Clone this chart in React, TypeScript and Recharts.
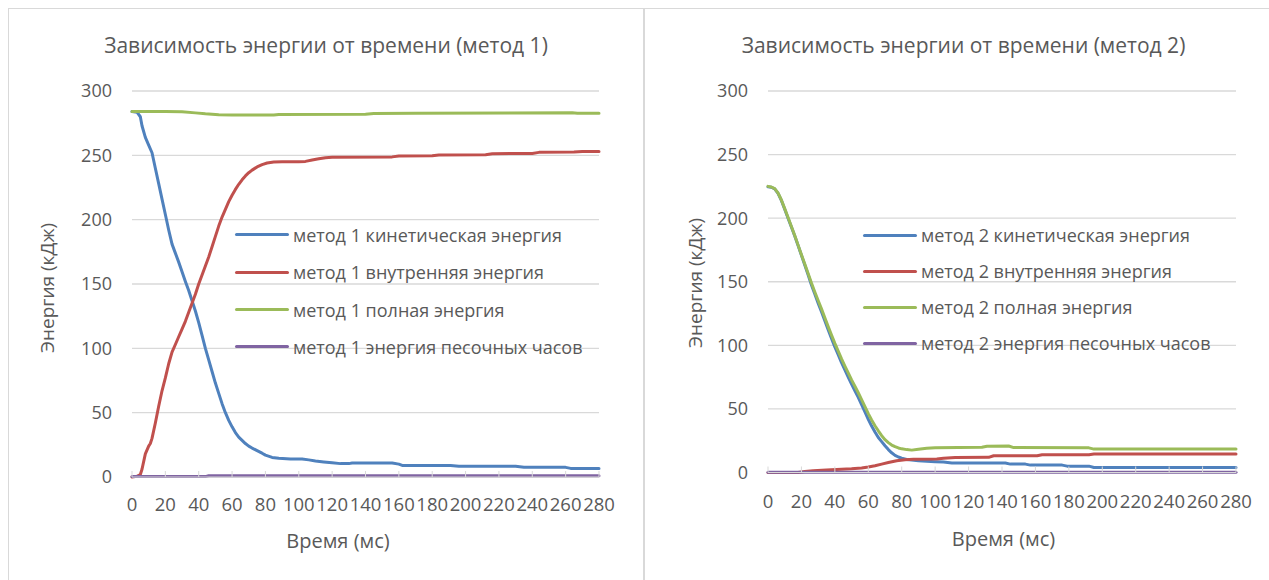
import { LineChart, Line, XAxis, YAxis, CartesianGrid, Legend } from "recharts";

type Pt = [number, number];

const timeTicks = [0, 20, 40, 60, 80, 100, 120, 140, 160, 180, 200, 220, 240, 260, 280];
const energyTicks = [0, 50, 100, 150, 200, 250, 300];

// метод 1: (время, мс; энергия, кДж)
const kinetic1: Pt[] = [
  [0, 284], [3, 283.5], [5, 280], [6, 273], [8, 264], [10, 258], [12, 252], [14, 240],
  [16, 228], [18, 216], [20, 204], [22, 192], [24, 181], [26, 174], [28, 167], [30, 159.5],
  [32, 152], [34, 145], [36, 137], [38, 129], [40, 120], [42, 110], [44, 100], [46, 91],
  [48, 82], [50, 73], [52, 65], [54, 57], [56, 50], [58, 44], [60, 39], [62, 34.5],
  [64, 31], [66, 28.5], [68, 26], [70, 24], [72, 22.5], [75, 20.5], [78, 18.5], [80, 17],
  [84, 15.2], [88, 14.5], [95, 14], [102, 14], [106, 13.3], [110, 12.5], [115, 11.7],
  [120, 11], [125, 10.4], [130, 10.4], [132, 10.9], [156, 10.9], [160, 10], [162, 9],
  [191, 9], [196, 8.3], [230, 8.3], [235, 7.5], [260, 7.5], [263, 6.7], [280, 6.7],
];
const internal1: Pt[] = [
  [0, 0], [3, 0.5], [5, 2], [6, 6], [8, 18], [10, 24], [11, 26], [12, 30], [14, 42],
  [16, 55], [18, 67], [20, 77], [22, 88], [24, 97], [26, 103], [28, 109], [30, 115],
  [32, 121], [34, 128], [36, 135], [38, 142], [40, 150], [42, 157], [44, 164], [46, 171],
  [48, 179], [50, 187], [52, 195], [54, 202], [56, 208], [58, 214], [60, 219], [62, 223.5],
  [64, 227.5], [66, 231], [68, 234], [70, 236.5], [72, 238.5], [75, 241], [78, 242.8],
  [81, 244], [85, 244.8], [90, 245], [100, 245], [104, 245.3], [108, 246.3], [112, 247.3],
  [116, 248.2], [120, 248.5], [156, 248.8], [160, 249.5], [180, 249.7], [184, 250.3],
  [212, 250.5], [216, 251.3], [240, 251.5], [244, 252.3], [265, 252.5], [270, 253], [280, 253],
];
const total1: Pt[] = [
  [0, 284], [20, 284], [30, 283.8], [38, 283], [44, 282.3], [52, 281.6], [60, 281.3],
  [85, 281.4], [88, 281.8], [140, 282], [145, 282.6], [170, 282.8], [264, 283.1],
  [267, 282.7], [280, 282.7],
];
const hourglass1: Pt[] = [[0, 0.3], [44, 0.3], [46, 1], [280, 1]];

// метод 2
const kinetic2: Pt[] = [
  [0, 224.6], [2, 224.3], [4, 223], [6, 219.5], [8, 214], [10, 207], [12, 200], [14, 193],
  [16, 186], [18, 178.5], [20, 170.8], [22, 163.2], [24, 155.5], [26, 147.5], [28, 140.3],
  [30, 133.2], [32, 126.5], [34, 119.3], [36, 112.2], [38, 105.5], [40, 98.8], [42, 92.7],
  [44, 86.4], [46, 80.8], [48, 75.1], [50, 69.5], [52, 64.3], [54, 59.1], [56, 53.4],
  [58, 47.6], [60, 41.8], [62, 36.5], [64, 31.8], [66, 27.5], [68, 24.3], [70, 21],
  [72, 18], [74, 15.5], [76, 13.5], [78, 12.2], [80, 11.3], [83, 10.3], [86, 9.8],
  [90, 9.2], [95, 8.8], [100, 8.5], [105, 8.2], [110, 7.5], [142, 7.4], [145, 6.6],
  [154, 6.6], [157, 5.8], [176, 5.8], [179, 5], [192, 5], [195, 3.9], [280, 3.9],
];
const internal2: Pt[] = [
  [0, 0], [18, 0], [22, 0.7], [27, 1.3], [35, 2], [44, 2.6], [50, 3], [56, 3.6], [60, 4.3],
  [64, 5.3], [68, 6.6], [72, 7.8], [77, 9.2], [82, 10], [87, 10.5], [101, 10.6],
  [105, 11.2], [112, 11.8], [132, 11.9], [135, 13.2], [161, 13.2], [164, 14], [192, 14],
  [195, 14.5], [280, 14.5],
];
const total2: Pt[] = [
  [0, 225], [2, 224.5], [4, 223.2], [6, 219.8], [8, 214.3], [10, 207.5], [12, 200.5],
  [14, 193.5], [16, 186.3], [18, 178.8], [20, 171.3], [22, 163.9], [24, 156.5], [26, 149],
  [28, 142], [30, 135.3], [32, 128.7], [34, 121.7], [36, 114.7], [38, 108], [40, 101.5],
  [42, 95.4], [44, 89.3], [46, 83.7], [48, 78.3], [50, 72.8], [52, 67.8], [54, 62.7],
  [56, 57.3], [58, 51.8], [60, 46.3], [62, 41.3], [64, 36.8], [66, 32.8], [68, 29],
  [70, 25.8], [72, 23.5], [74, 21.6], [76, 20.3], [78, 19.3], [80, 18.6], [83, 18],
  [86, 17.6], [90, 18.3], [95, 19], [100, 19.5], [128, 19.8], [131, 20.6], [144, 20.8],
  [147, 19.6], [192, 19.4], [195, 18.4], [280, 18.4],
];
const hourglass2: Pt[] = [[0, 0.2], [280, 0.2]];

const seriesLabels = ["кинетическая энергия", "внутренняя энергия", "полная энергия", "энергия песочных часов"];
const seriesColors = ["#4F81BD", "#C0504D", "#9BBB59", "#8064A2"];

const FONT = "'Open Sans', 'Noto Sans', sans-serif";
const TEXT = "#595959";
const GRID = "#d9d9d9";

const toRows = (pts: Pt[]) => pts.map(([t, e]) => ({ t, e }));

// легенда в порядке серий, а не по алфавиту
function LegendBox({ payload, rowH }: any) {
  const items = [...(payload || [])].sort(
    (a: any, b: any) => seriesColors.indexOf(a.color) - seriesColors.indexOf(b.color)
  );
  return (
    <div style={{ fontFamily: FONT, fontSize: 18, color: TEXT }}>
      {items.map((p: any) => (
        <div key={p.value} style={{ height: rowH, display: "flex", alignItems: "center", whiteSpace: "nowrap" }}>
          <span style={{ width: 54, height: 3, background: p.color, borderRadius: 2, marginRight: 4, flexShrink: 0 }} />
          {p.value}
        </div>
      ))}
    </div>
  );
}

interface PanelProps {
  method: number;
  series: Pt[][];
  left: number;
  width: number;
  plotLeft: number;
  plotRight: number;
  plotBottom: number;
  legendX: number;
  legendY: number;
  legendRow: number;
  titleX: number;
  yTitleX: number;
  yTitleY: number;
  xTitleX: number;
  xTitleY: number;
}

function EnergyPanel(p: PanelProps) {
  const height = 580;
  const top = 91;
  return (
    <div style={{ position: "absolute", left: p.left, top: 0, width: p.width, height }}>
      <LineChart
        width={p.width}
        height={height}
        margin={{ top, right: p.width - p.plotRight, left: 0, bottom: 0 }}
      >
        <CartesianGrid vertical={false} stroke={GRID} strokeWidth={1.3} />
        <XAxis
          type="number"
          dataKey="t"
          domain={[0, 280]}
          ticks={timeTicks}
          interval={0}
          height={height - p.plotBottom}
          stroke={GRID}
          tickSize={-6}
          tickMargin={p.plotBottom > 475 ? 27 : 28}
          tick={{ fill: TEXT, fontSize: 18.5, fontFamily: FONT }}
          allowDuplicatedCategory={false}
        />
        <YAxis
          domain={[0, 300]}
          ticks={energyTicks}
          width={p.plotLeft}
          axisLine={false}
          tickLine={false}
          tickMargin={14}
          tick={{ fill: TEXT, fontSize: 18, fontFamily: FONT }}
        />
        {p.series.map((pts, i) => (
          <Line
            key={i}
            data={toRows(pts)}
            dataKey="e"
            name={`метод ${p.method} ${seriesLabels[i]}`}
            stroke={seriesColors[i]}
            strokeWidth={3}
            strokeLinecap="round"
            strokeLinejoin="round"
            dot={false}
            activeDot={false}
            type="linear"
            isAnimationActive={false}
          />
        ))}
        <Legend
          layout="vertical"
          align="center"
          verticalAlign="middle"
          width={380}
          wrapperStyle={{ left: p.legendX, top: p.legendY - p.legendRow / 2, bottom: "auto" }}
          content={(props: any) => <LegendBox {...props} rowH={p.legendRow} />}
        />
      </LineChart>
      <div
        style={{
          position: "absolute", left: p.titleX, top: 45, transform: "translate(-50%, -50%)",
          fontFamily: FONT, fontSize: 21, color: TEXT, whiteSpace: "nowrap",
        }}
      >
        Зависимость энергии от времени (метод {p.method})
      </div>
      <div
        style={{
          position: "absolute", left: p.yTitleX, top: p.yTitleY,
          transform: "translate(-50%, -50%) rotate(-90deg)",
          fontFamily: FONT, fontSize: 19, color: TEXT, whiteSpace: "nowrap",
        }}
      >
        Энергия (кДж)
      </div>
      <div
        style={{
          position: "absolute", left: p.xTitleX, top: p.xTitleY, transform: "translate(-50%, -50%)",
          fontFamily: FONT, fontSize: 20, color: TEXT, whiteSpace: "nowrap",
        }}
      >
        Время (мс)
      </div>
    </div>
  );
}

export default function App() {
  return (
    <div style={{ position: "absolute", left: 0, top: 0, width: 1269, height: 580, background: "#fff", overflow: "hidden" }}>
      <EnergyPanel
        method={1}
        series={[kinetic1, internal1, total1, hourglass1]}
        left={0}
        width={644}
        plotLeft={132}
        plotRight={599}
        plotBottom={477}
        legendX={235}
        legendY={235}
        legendRow={37.3}
        titleX={326}
        yTitleX={47}
        yTitleY={288}
        xTitleX={338}
        xTitleY={540}
      />
      <EnergyPanel
        method={2}
        series={[kinetic2, internal2, total2, hourglass2]}
        left={644}
        width={625}
        plotLeft={124}
        plotRight={592}
        plotBottom={472.5}
        legendX={219}
        legendY={235}
        legendRow={36}
        titleX={319.5}
        yTitleX={51}
        yTitleY={282.5}
        xTitleX={359.5}
        xTitleY={538}
      />
      {/* рамки областей диаграмм */}
      <div style={{ position: "absolute", left: 8, top: 8, width: 636, height: 600, border: "1px solid #d9d9d9", boxSizing: "border-box" }} />
      <div style={{ position: "absolute", left: 644, top: 8, width: 700, height: 600, border: "1px solid #d9d9d9", boxSizing: "border-box" }} />
    </div>
  );
}
